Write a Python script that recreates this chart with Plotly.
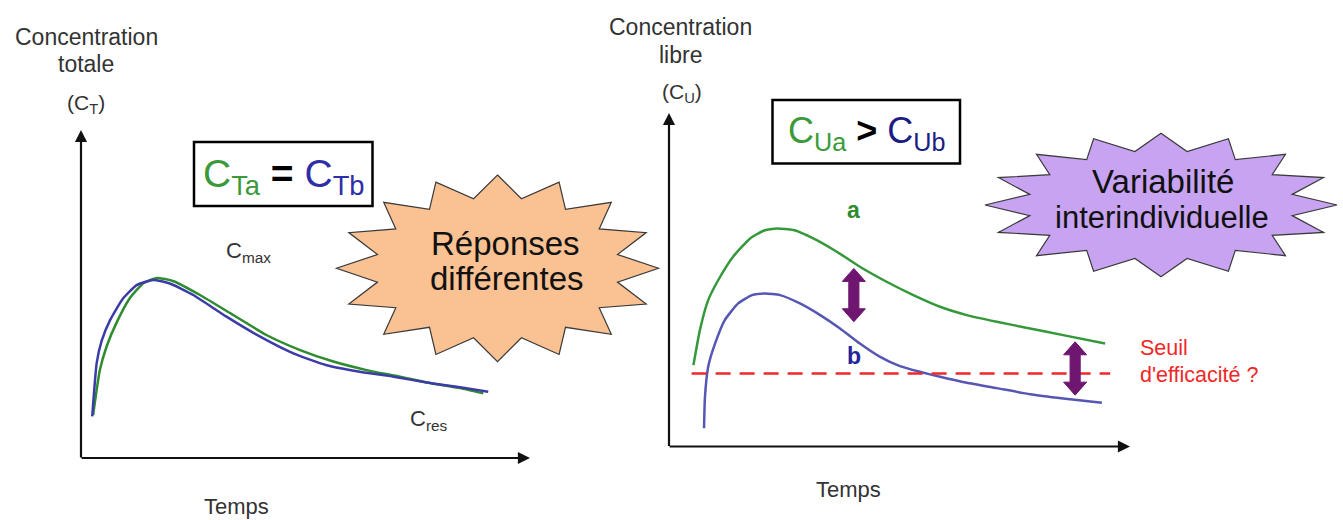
import numpy as np
import plotly.graph_objects as go

W, H = 1343, 520

# ---------------- data ----------------
# Left panel: total concentration (time 0..10, conc 0..10 arbitrary units)
left_a_t = [0.27, 0.42, 0.57, 0.80, 1.09, 1.39, 1.69, 2.06, 2.65, 3.39, 4.13, 4.88, 5.62, 6.36, 7.10, 7.70, 8.44, 8.96]
left_a_c = [1.31, 2.68, 3.40, 4.15, 4.88, 5.33, 5.49, 5.39, 4.97, 4.36, 3.75, 3.29, 2.94, 2.68, 2.48, 2.30, 2.13, 1.97]
left_b_t = [0.25, 0.35, 0.46, 0.65, 0.94, 1.24, 1.61, 1.98, 2.50, 3.24, 3.99, 4.73, 5.47, 6.21, 6.96, 7.70, 8.44, 9.07]
left_b_c = [1.27, 2.90, 3.57, 4.21, 4.87, 5.27, 5.43, 5.32, 4.97, 4.31, 3.70, 3.19, 2.83, 2.63, 2.48, 2.30, 2.16, 2.02]

# Right panel: free concentration
right_a_t = [0.53, 0.67, 0.85, 1.11, 1.39, 1.76, 2.05, 2.34, 2.70, 3.13, 3.64, 4.14, 4.72, 5.30, 5.88, 6.46, 7.11, 7.83, 8.55, 9.46]
right_a_c = [2.44, 3.49, 4.39, 5.09, 5.69, 6.24, 6.47, 6.54, 6.49, 6.24, 5.84, 5.39, 4.94, 4.54, 4.19, 3.94, 3.74, 3.54, 3.34, 3.09]
right_b_t = [0.76, 0.78, 0.85, 1.00, 1.21, 1.50, 1.80, 2.08, 2.41, 2.84, 3.28, 3.71, 4.14, 4.58, 5.01, 5.44, 5.88, 6.46, 7.11, 7.83, 8.55, 9.39]
right_b_c = [0.55, 1.49, 2.39, 3.09, 3.79, 4.29, 4.54, 4.59, 4.54, 4.29, 3.94, 3.54, 3.09, 2.69, 2.41, 2.24, 2.09, 1.91, 1.75, 1.57, 1.44, 1.31]

threshold_c = 2.19
threshold_t = [0.49, 9.57]

arrow_t = [4.01, 8.81]
arrow_top = [5.34, 3.14]
arrow_bottom = [3.74, 1.54]

# ---------------- colours ----------------
GREEN = "#2E8B2E"
BLUE = "#3C3CA8"
GREEN_R = "#35983A"
BLUE_R = "#5656B4"
NAVY = "#24249A"
PURPLE = "#6E1670"
RED = "#F02828"
GREY = "#333333"
FONT = "Liberation Sans, Arial, sans-serif"

fig = go.Figure()

# overlay (pixel) axis for decorations
fig.add_trace(go.Scatter(x=[0], y=[0], mode="markers", marker=dict(opacity=0),
                         xaxis="x", yaxis="y", hoverinfo="skip", showlegend=False))

def spline(t, c, color, xa, ya):
    fig.add_trace(go.Scatter(x=t, y=c, mode="lines",
                             line=dict(color=color, width=2.5, shape="spline", smoothing=0.5),
                             xaxis=xa, yaxis=ya, hoverinfo="skip", showlegend=False))

spline(left_a_t, left_a_c, GREEN, "x2", "y2")
spline(left_b_t, left_b_c, BLUE, "x2", "y2")
spline(right_a_t, right_a_c, GREEN_R, "x3", "y3")
spline(right_b_t, right_b_c, BLUE_R, "x3", "y3")
fig.add_trace(go.Scatter(x=threshold_t, y=[threshold_c, threshold_c], mode="lines",
                         line=dict(color=RED, width=2.5, dash="15px,9px"),
                         xaxis="x3", yaxis="y3", hoverinfo="skip", showlegend=False))

shapes = []
annotations = []

# stars
def star(cx, cy, rx, ry, inner, n=16):
    pts = []
    for k in range(2 * n):
        ang = np.deg2rad(90 - k * 180.0 / n)
        r = 1.0 if k % 2 == 0 else inner
        pts.append((cx + rx * r * np.cos(ang), cy - ry * r * np.sin(ang)))
    return "M " + " L ".join(f"{x:.1f},{y:.1f}" for x, y in pts) + " Z"

shapes.append(dict(type="path", path=star(497.5, 268.3, 161, 93.3, 0.76), xref="x", yref="y",
                   fillcolor="#FAC193", line=dict(color="#3A3A3A", width=1.2), layer="above"))
shapes.append(dict(type="path", path=star(1161, 205, 176, 71.7, 0.76), xref="x", yref="y",
                   fillcolor="#C7A3F2", line=dict(color="#3A3A3A", width=1.2), layer="above"))

# boxes
shapes.append(dict(type="rect", x0=194, y0=142, x1=372.5, y1=206, xref="x", yref="y",
                   fillcolor="white", line=dict(color="black", width=2.5), layer="above"))
shapes.append(dict(type="rect", x0=772.5, y0=100, x1=960, y1=163.5, xref="x", yref="y",
                   fillcolor="white", line=dict(color="black", width=2.5), layer="above"))

# purple double arrows (panel coords)
sw, hw, hl = 0.11, 0.25, 0.39
for t, top, bot in zip(arrow_t, arrow_top, arrow_bottom):
    p = (f"M {t},{top} L {t+hw},{top-hl} L {t+sw},{top-hl} L {t+sw},{bot+hl} L {t+hw},{bot+hl} "
         f"L {t},{bot} L {t-hw},{bot+hl} L {t-sw},{bot+hl} L {t-sw},{top-hl} L {t-hw},{top-hl} Z")
    shapes.append(dict(type="path", path=p, xref="x3", yref="y3", fillcolor=PURPLE,
                       line=dict(color=PURPLE, width=1), layer="above"))

# axis arrows
for xa, ya in (("x2", "y2"), ("x3", "y3")):
    annotations.append(dict(x=10, y=0, ax=-0.02, ay=0, xref=xa, yref=ya, axref=xa, ayref=ya,
                            text="", showarrow=True, arrowhead=2, arrowsize=1.1, arrowwidth=2.2, arrowcolor="#111"))
    annotations.append(dict(x=0, y=10, ax=0, ay=-0.03, xref=xa, yref=ya, axref=xa, ayref=ya,
                            text="", showarrow=True, arrowhead=2, arrowsize=1.1, arrowwidth=2.2, arrowcolor="#111"))

def txt(x, y, s, size, color=GREY, xanchor="center", xref="x", yref="y"):
    annotations.append(dict(x=x, y=y, text=s, xref=xref, yref=yref, showarrow=False,
                            xanchor=xanchor, yanchor="middle",
                            font=dict(family=FONT, size=size, color=color)))

# axis titles
txt(86, 37, "Concentration", 23)
txt(86, 64, "totale", 23)
txt(86, 104, "(C<sub>T</sub>)", 21)
txt(680, 27, "Concentration", 23)
txt(680, 55, "libre", 23)
txt(682, 93, "(C<sub>U</sub>)", 21)
txt(236, 506, "Temps", 22)
txt(848, 489, "Temps", 22)

# box texts
txt(283.5, 176, f'<span style="color:#3A9A3A">C<sub>Ta</sub></span> <b>=</b> '
                f'<span style="color:#2E2EA6">C<sub>Tb</sub></span>', 39, color="black")
txt(866, 133, f'<span style="color:#3A9A3A">C<sub>Ua</sub></span> <b>&gt;</b> '
              f'<span style="color:#1C1C84">C<sub>Ub</sub></span>', 36, color="black")

# star texts
txt(505, 243, "Réponses", 33, color="#111")
txt(507, 278, "différentes", 33, color="#111")
txt(1163, 181, "Variabilité", 33, color="#111")
txt(1162, 217, "interindividuelle", 31, color="#111")

# panel labels
txt(3.72, 6.28, "C<sub>max</sub>", 22, xref="x2", yref="y2")
txt(7.75, 1.16, "C<sub>res</sub>", 22, xref="x2", yref="y2")
txt(4.01, 7.09, "<b>a</b>", 23, color=GREEN, xref="x3", yref="y3")
txt(4.01, 2.71, "<b>b</b>", 23, color=NAVY, xref="x3", yref="y3")
txt(1138, 348, "Seuil", 21.5, color=RED, xanchor="left")
txt(1138, 375, "d'efficacité ?", 21.5, color=RED, xanchor="left")

hidden = dict(visible=False, showgrid=False, zeroline=False, fixedrange=True)
fig.update_layout(
    width=W, height=H, margin=dict(l=0, r=0, t=0, b=0),
    paper_bgcolor="white", plot_bgcolor="rgba(0,0,0,0)",
    showlegend=False,
    xaxis=dict(domain=[0, 1], range=[0, W], **hidden),
    yaxis=dict(domain=[0, 1], range=[H, 0], **hidden),
    xaxis2=dict(domain=[81 / W, 530 / W], range=[0, 10], anchor="y2", **hidden),
    yaxis2=dict(domain=[1 - 458 / H, 1 - 130 / H], range=[0, 10], anchor="x2", **hidden),
    xaxis3=dict(domain=[669 / W, 1130 / W], range=[0, 10], anchor="y3", **hidden),
    yaxis3=dict(domain=[1 - 446.5 / H, 1 - 113 / H], range=[0, 10], anchor="x3", **hidden),
    shapes=shapes, annotations=annotations,
)

fig.write_html("out.html", config=dict(displayModeBar=False, staticPlot=True),
               post_script="document.body.style.margin='0px';document.body.style.overflow='hidden';")
